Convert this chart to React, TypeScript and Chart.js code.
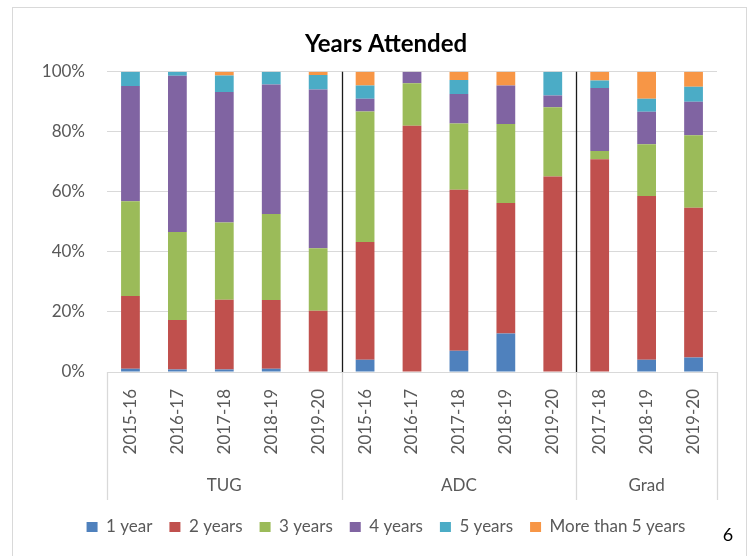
import React, { useEffect, useRef } from 'react';
import { Chart, registerables } from 'chart.js';

Chart.register(...registerables);

const title = 'Years Attended';
const years = ['2015-16', '2016-17', '2017-18', '2018-19', '2019-20', '2015-16', '2016-17', '2017-18', '2018-19', '2019-20', '2017-18', '2018-19', '2019-20'];
const groups = ['TUG', 'TUG', 'TUG', 'TUG', 'TUG', 'ADC', 'ADC', 'ADC', 'ADC', 'ADC', 'Grad', 'Grad', 'Grad'];
const seriesNames = ['1 year', '2 years', '3 years', '4 years', '5 years', 'More than 5 years'];
const oneYear = [1.1, 0.8, 0.8, 1.1, 0, 4.1, 0, 7.1, 12.8, 0, 0, 4.1, 4.8];
const twoYears = [24.2, 16.5, 23.3, 22.9, 20.4, 39.2, 82.0, 53.6, 43.5, 65.1, 70.9, 54.5, 49.9];
const threeYears = [31.6, 29.3, 25.7, 28.6, 20.8, 43.5, 14.2, 22.1, 26.3, 23.1, 2.7, 17.3, 24.2];
const fourYears = [38.4, 52.1, 43.5, 43.2, 52.9, 4.2, 3.8, 9.8, 12.8, 3.9, 21.0, 10.8, 11.1];
const fiveYears = [4.7, 1.3, 5.5, 4.2, 4.8, 4.4, 0, 4.7, 0, 7.9, 2.5, 4.3, 5.0];
const moreThanFive = [0, 0, 1.2, 0, 1.1, 4.6, 0, 2.7, 4.6, 0, 2.9, 9.0, 5.0];
const yTicks = [0, 20, 40, 60, 80, 100];
const pageNumber = '6';

const colors = ['#4F81BD', '#C0504D', '#9BBB59', '#8064A2', '#4BACC6', '#F79646'];
const FONT = 'Lato, "Open Sans", sans-serif';
const TEXT = '#595959';
const GRID = '#d9d9d9';

const groupPlugin = {
  id: 'groupAxis',
  beforeDraw(chart: any) {
    const { ctx } = chart;
    ctx.save();
    ctx.strokeStyle = GRID;
    ctx.lineWidth = 1;
    ctx.strokeRect(12.5, 7.5, 734, 620);
    ctx.restore();
  },
  afterDatasetsDraw(chart: any) {
    const { ctx, chartArea } = chart;
    const x = chart.scales.x;
    const n = groups.length;
    const bottom = x.bottom - 1.5;
    const edges: number[] = [x.left];
    const starts: number[] = [0];
    for (let i = 1; i < n; i++) {
      if (groups[i] !== groups[i - 1]) {
        edges.push((x.getPixelForValue(i - 1) + x.getPixelForValue(i)) / 2);
        starts.push(i);
      }
    }
    edges.push(x.right);
    ctx.save();
    // black separators in the plot
    ctx.strokeStyle = '#1a1a1a';
    ctx.lineWidth = 1.3;
    for (let k = 1; k < edges.length - 1; k++) {
      const px = Math.round(edges[k]) + 0.5;
      ctx.beginPath();
      ctx.moveTo(px, chartArea.top);
      ctx.lineTo(px, chartArea.bottom);
      ctx.stroke();
    }
    // gray separators below the axis
    ctx.strokeStyle = GRID;
    ctx.lineWidth = 1.3;
    for (let k = 0; k < edges.length; k++) {
      const px = Math.round(edges[k]) + 0.5;
      ctx.beginPath();
      ctx.moveTo(px, chartArea.bottom);
      ctx.lineTo(px, bottom);
      ctx.stroke();
    }
    // group labels
    ctx.fillStyle = TEXT;
    ctx.font = '17px ' + FONT;
    ctx.textAlign = 'center';
    ctx.textBaseline = 'middle';
    for (let k = 0; k < starts.length; k++) {
      const cx = (edges[k] + edges[k + 1]) / 2;
      ctx.fillText(groups[starts[k]], cx, 486);
    }
    // page number
    ctx.fillStyle = '#000000';
    ctx.font = '18px ' + FONT;
    ctx.fillText(pageNumber, 728, 535);
    ctx.restore();
  },
};

export default function App() {
  const ref = useRef<HTMLCanvasElement | null>(null);
  useEffect(() => {
    if (!ref.current) return;
    const data = [oneYear, twoYears, threeYears, fourYears, fiveYears, moreThanFive];
    const chart = new Chart(ref.current, {
      type: 'bar',
      data: {
        labels: years,
        datasets: data.map((d, i) => ({
          label: seriesNames[i],
          data: d,
          backgroundColor: colors[i],
          borderWidth: 0,
          barPercentage: 0.4,
          categoryPercentage: 1,
        })),
      },
      options: {
        animation: false,
        responsive: true,
        maintainAspectRatio: false,
        layout: { padding: { left: 24, right: 0, top: 0, bottom: 10.5 } },
        plugins: {
          title: {
            display: true,
            text: title,
            color: '#000000',
            font: { family: FONT, size: 24, weight: 'bold', lineHeight: 1.2 },
            padding: { top: 30, bottom: 13 },
          },
          legend: {
            position: 'bottom',
            labels: {
              color: TEXT,
              font: { family: FONT, size: 17 },
              boxWidth: 11,
              boxHeight: 10,
              padding: 17,
            },
          },
          tooltip: { enabled: false },
        },
        scales: {
          x: {
            stacked: true,
            grid: { display: false, drawTicks: false },
            border: { display: true, color: GRID, width: 1 },
            ticks: {
              color: TEXT,
              font: { family: FONT, size: 17 },
              minRotation: 90,
              maxRotation: 90,
              autoSkip: false,
              padding: 17,
            },
            afterFit: (s: any) => { s.height = 129.5; },
          },
          y: {
            stacked: true,
            min: 0,
            max: 100,
            grid: { color: GRID, lineWidth: 1, drawTicks: false },
            border: { display: false },
            ticks: {
              stepSize: 20,
              color: TEXT,
              font: { family: FONT, size: 17 },
              padding: 22,
              callback: (v: any) => (yTicks.includes(Number(v)) ? v + '%' : ''),
            },
            afterFit: (s: any) => { s.width = 83; },
          },
          yRight: {
            position: 'right',
            display: true,
            grid: { display: false, drawTicks: false },
            border: { display: false },
            ticks: { display: false },
            afterFit: (s: any) => { s.width = 31; },
          },
        },
      },
      plugins: [groupPlugin],
    });
    return () => chart.destroy();
  }, []);
  return (
    <div style={{ position: 'absolute', left: 0, top: 0, width: 748, height: 556, background: '#ffffff' }}>
      <canvas ref={ref} />
    </div>
  );
}
